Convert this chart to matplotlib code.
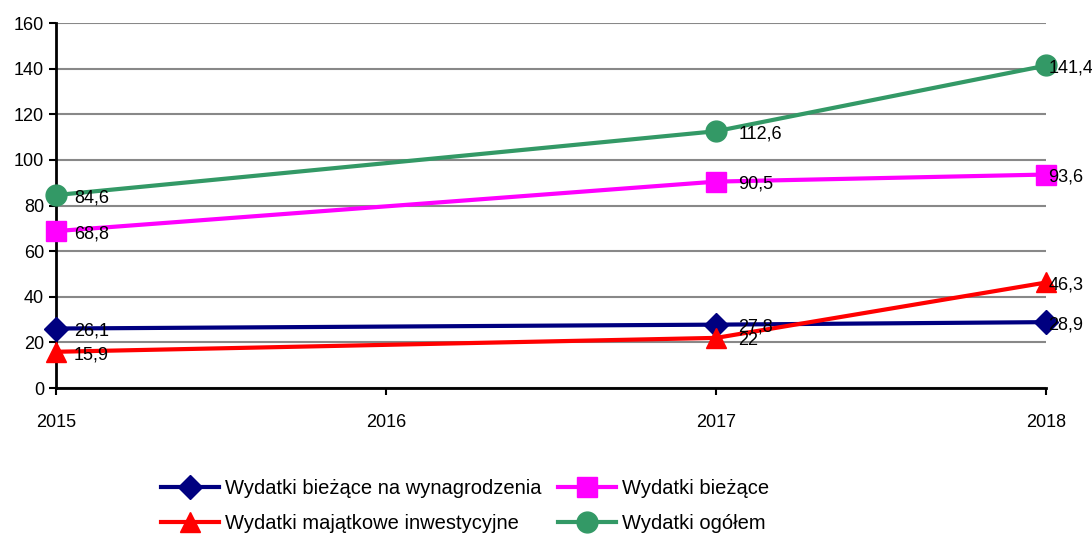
import matplotlib
matplotlib.use("Agg")
import matplotlib.pyplot as plt

years = [2015, 2017, 2018]
wynagrodzenia = [26.1, 27.8, 28.9]
biezace = [68.8, 90.5, 93.6]
majatkowe = [15.9, 22.0, 46.3]
ogolem = [84.6, 112.6, 141.4]

series_names = [
    "Wydatki bieżące na wynagrodzenia",
    "Wydatki majątkowe inwestycyjne",
    "Wydatki bieżące",
    "Wydatki ogółem",
]

plt.rcParams["font.family"] = ["Liberation Sans", "DejaVu Sans"]

fig = plt.figure(figsize=(10.92, 5.36), dpi=100)
ax = fig.add_axes([0.0513, 0.276, 0.907, 0.681])

styles = [
    (wynagrodzenia, "#000080", "D", 12),
    (majatkowe, "#ff0000", "^", 15),
    (biezace, "#ff00ff", "s", 14),
    (ogolem, "#339966", "o", 15),
]
# label x-offsets (px) per point: 2015, 2017, 2018
offsets = [18, 22, 2]

for (vals, col, mk, ms), name in zip(styles, series_names):
    ax.plot(years, vals, color=col, lw=3, marker=mk, markersize=ms,
            markeredgecolor=col, label=name, clip_on=False, zorder=3)
    for x, v, dx in zip(years, vals, offsets):
        ax.annotate(f"{v:g}".replace(".", ","), (x, v), xytext=(dx * 0.72, -2),
                    textcoords="offset points", ha="left", va="center",
                    fontsize=13, zorder=4)

ax.set_xlim(2015, 2018)
ax.set_ylim(0, 160)
ax.set_xticks([2015, 2016, 2017, 2018])
ax.set_yticks(range(0, 161, 20))
ax.tick_params(labelsize=13, width=1.5, length=5, direction="out")
ax.tick_params(axis="x", pad=14)
ax.grid(axis="y", color="#888888", lw=1.5)
ax.set_axisbelow(True)
for s in ["top", "right"]:
    ax.spines[s].set_visible(False)
ax.spines["left"].set_linewidth(2)
ax.spines["bottom"].set_linewidth(2)

fig.legend(loc="upper left", bbox_to_anchor=(0.14, 0.122), ncol=2, frameon=False,
           fontsize=14.5, handlelength=2.9, handletextpad=0.3, columnspacing=0.8,
           labelspacing=0.8, borderaxespad=0)

fig.savefig("out.png", dpi=100)
